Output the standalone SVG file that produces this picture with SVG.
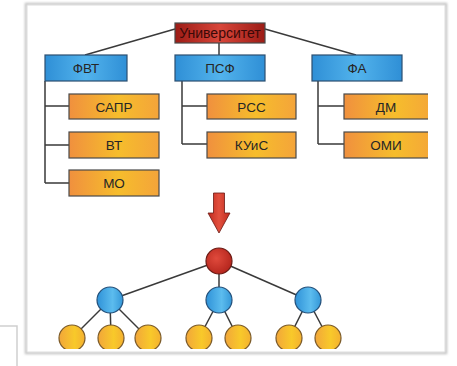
<svg xmlns="http://www.w3.org/2000/svg" width="457" height="366" viewBox="0 0 457 366">
  <defs>
    <linearGradient id="gRed" x1="0" y1="0" x2="1" y2="0">
      <stop offset="0" stop-color="#9c1c16"/>
      <stop offset="0.5" stop-color="#d8463a"/>
      <stop offset="1" stop-color="#9c1c16"/>
    </linearGradient>
    <linearGradient id="gBlue" x1="0" y1="0" x2="1" y2="0">
      <stop offset="0" stop-color="#2f8fd6"/>
      <stop offset="0.5" stop-color="#52b3ec"/>
      <stop offset="1" stop-color="#2f8fd6"/>
    </linearGradient>
    <linearGradient id="gOrange" x1="0" y1="0" x2="1" y2="0">
      <stop offset="0" stop-color="#f0903e"/>
      <stop offset="0.55" stop-color="#f6bd2c"/>
      <stop offset="1" stop-color="#f4a43a"/>
    </linearGradient>
    <radialGradient id="cRed" cx="0.4" cy="0.4" r="0.7">
      <stop offset="0" stop-color="#e04a3c"/>
      <stop offset="1" stop-color="#b0221a"/>
    </radialGradient>
    <linearGradient id="cBlue" x1="0" y1="0" x2="1" y2="0">
      <stop offset="0" stop-color="#2f92d8"/>
      <stop offset="0.6" stop-color="#5cbcee"/>
      <stop offset="1" stop-color="#3497d8"/>
    </linearGradient>
    <linearGradient id="cYellow" x1="0" y1="0" x2="1" y2="0">
      <stop offset="0" stop-color="#f2a63a"/>
      <stop offset="0.6" stop-color="#f8c92a"/>
      <stop offset="1" stop-color="#f4b030"/>
    </linearGradient>
    <linearGradient id="gArrow" x1="0" y1="0" x2="1" y2="0">
      <stop offset="0" stop-color="#c02a1e"/>
      <stop offset="0.5" stop-color="#e2503e"/>
      <stop offset="1" stop-color="#c02a1e"/>
    </linearGradient>
    <clipPath id="panelClip">
      <rect x="27" y="5" width="401" height="344"/>
    </clipPath>
    <filter id="soft" x="-5%" y="-5%" width="110%" height="110%">
      <feGaussianBlur stdDeviation="1.2"/>
    </filter>
  </defs>
  <style>
    .box { stroke: #4a4a4a; stroke-width: 1.2; }
    .blue { fill: url(#gBlue); stroke: #2c4f70; stroke-width: 1.2; }
    .org { fill: url(#gOrange); }
    .lbl { font-family: "Liberation Sans", Arial, sans-serif; font-size: 13.5px; fill: #262626; text-anchor: middle; }
    .link { stroke: #3a3a3a; stroke-width: 1.5; fill: none; }
    .cr { fill: url(#cRed); stroke: #6a1a14; stroke-width: 1.2; }
    .cb { fill: url(#cBlue); stroke: #24507a; stroke-width: 1.2; }
    .cy { fill: url(#cYellow); stroke: #7a5a2a; stroke-width: 1.2; }
  </style>

  <rect width="457" height="366" fill="#ffffff"/>

  <!-- panel frame with soft shadow -->
  <g id="frame">
    <rect x="26" y="4" width="420" height="349" fill="none" stroke="#c4c4c4" stroke-width="2.5" filter="url(#soft)"/>
    <rect x="27" y="5" width="418" height="347" fill="#ffffff" stroke="#dcdcdc" stroke-width="1"/>
    <path d="M0,326 H17 V366" fill="none" stroke="#cfcfcf" stroke-width="1.5"/>
  </g>

  <!-- connectors -->
  <g id="connectors" class="link">
    <line x1="175" y1="29" x2="85" y2="55"/>
    <line x1="265" y1="29" x2="356" y2="55"/>
    <line x1="219" y1="43" x2="219" y2="55"/>
    <path d="M45,81 V183 M45,106 H69 M45,145 H69 M45,183 H69"/>
    <path d="M182,81 V144 M182,106 H207 M182,144 H207"/>
    <path d="M318,81 V144 M318,106 H344 M318,144 H344"/>
    <line x1="219" y1="261" x2="110" y2="300"/>
    <line x1="219" y1="261" x2="219" y2="300"/>
    <line x1="219" y1="261" x2="308" y2="300"/>
    <line x1="110" y1="300" x2="72" y2="338"/>
    <line x1="110" y1="300" x2="111" y2="338"/>
    <line x1="110" y1="300" x2="148" y2="338"/>
    <line x1="219" y1="300" x2="199" y2="338"/>
    <line x1="219" y1="300" x2="238" y2="338"/>
    <line x1="308" y1="300" x2="289" y2="338"/>
    <line x1="308" y1="300" x2="328" y2="338"/>
  </g>

  <!-- top-level unit -->
  <g id="university">
    <rect x="175" y="23" width="90" height="20" fill="url(#gRed)" class="box"/>
    <text x="220" y="38" class="lbl" style="fill:#3a0a08;font-size:14px">Университет</text>
  </g>

  <!-- faculties -->
  <g id="fvt">
    <rect x="45" y="55" width="82" height="26" class="blue"/>
    <text x="86" y="73" class="lbl">ФВТ</text>
  </g>
  <g id="psf">
    <rect x="175" y="55" width="90" height="26" class="blue"/>
    <text x="220" y="73" class="lbl">ПСФ</text>
  </g>
  <g id="fa">
    <rect x="312" y="55" width="90" height="26" class="blue"/>
    <text x="357" y="73" class="lbl">ФА</text>
  </g>

  <!-- departments -->
  <g id="sapr">
    <rect x="69" y="94" width="90" height="25" class="box org"/>
    <text x="114" y="111.5" class="lbl">САПР</text>
  </g>
  <g id="vt">
    <rect x="69" y="132" width="90" height="26" class="box org"/>
    <text x="114" y="150" class="lbl">ВТ</text>
  </g>
  <g id="mo">
    <rect x="69" y="170" width="90" height="26" class="box org"/>
    <text x="114" y="188" class="lbl">МО</text>
  </g>
  <g id="rss">
    <rect x="207" y="94" width="89" height="25" class="box org"/>
    <text x="251.5" y="111.5" class="lbl">РСС</text>
  </g>
  <g id="kuis">
    <rect x="207" y="132" width="89" height="26" class="box org"/>
    <text x="251.5" y="150" class="lbl">КУиС</text>
  </g>
  <g id="dm" clip-path="url(#panelClip)">
    <rect x="344" y="94" width="92" height="25" class="box org"/>
    <text x="386" y="111.5" class="lbl">ДМ</text>
  </g>
  <g id="omi" clip-path="url(#panelClip)">
    <rect x="344" y="132" width="92" height="26" class="box org"/>
    <text x="386" y="150" class="lbl">ОМИ</text>
  </g>

  <!-- transformation arrow -->
  <g id="arrow">
    <path d="M213.5,193 H224.5 V213 H230 L219,233 L208,213 H213.5 Z" fill="url(#gArrow)" stroke="#6a1a14" stroke-width="0.8"/>
  </g>

  <!-- tree view -->
  <g id="root">
    <circle cx="219" cy="261" r="13" class="cr"/>
  </g>
  <g id="mid-1"><circle cx="110" cy="300" r="13" class="cb"/></g>
  <g id="mid-2"><circle cx="219" cy="300" r="13" class="cb"/></g>
  <g id="mid-3"><circle cx="308" cy="300" r="13" class="cb"/></g>
  <g id="leaves" clip-path="url(#panelClip)">
    <g id="leaf-1"><circle cx="72" cy="338" r="13" class="cy"/></g>
    <g id="leaf-2"><circle cx="111" cy="338" r="13" class="cy"/></g>
    <g id="leaf-3"><circle cx="148" cy="338" r="13" class="cy"/></g>
    <g id="leaf-4"><circle cx="199" cy="338" r="13" class="cy"/></g>
    <g id="leaf-5"><circle cx="238" cy="338" r="13" class="cy"/></g>
    <g id="leaf-6"><circle cx="289" cy="338" r="13" class="cy"/></g>
    <g id="leaf-7"><circle cx="328" cy="338" r="13" class="cy"/></g>
  </g>
</svg>
